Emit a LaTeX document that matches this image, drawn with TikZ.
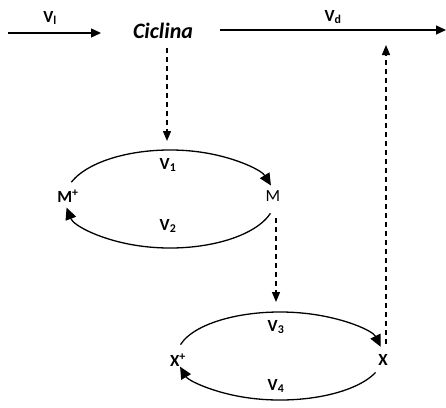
\documentclass[tikz,border=0pt]{standalone}
\usepackage{fontspec}
\setmainfont{Carlito}
\usetikzlibrary{arrows.meta}
\begin{document}
\begin{tikzpicture}[x=1pt,y=-1pt,
  lbl/.style={font=\bfseries\fontsize{17}{19}\selectfont,inner sep=0pt},
  flow/.style={line width=1.3pt,-{Triangle[length=10pt,width=9pt]}},
  cyc/.style={line width=1.3pt,-{Triangle[length=12pt,width=11pt]}},
  dashlink/.style={line width=1.3pt,dash pattern=on 5pt off 4pt,-{Triangle[length=10pt,width=8pt]}}]
\useasboundingbox (0,0) rectangle (446,407);

% top row
\coordinate (in0) at (8,33);
\node[inner sep=0pt] (cyc) at (163,31) {\bfseries\itshape\fontsize{22}{26}\selectfont Ciclina};
\coordinate (inEnd) at (101,33);
\coordinate (dStart) at (220,30);
\coordinate (dEnd) at (446,30);
\draw[flow] (in0) -- (inEnd);
\draw[flow] (dStart) -- (dEnd);
\node[lbl] (vl) at (50,18) {V\textsubscript{l}};
\node[lbl] (vd) at (333,17) {V\textsubscript{d}};

% M cycle
\coordinate (cM) at (170,199);
\node[lbl] (mp) at (68,196) {M\textsuperscript{+}};
\node[font=\fontsize{17}{19}\selectfont,inner sep=0pt] (m) at (273,196) {M};
\node[lbl] (v1) at (168,165) {V\textsubscript{1}};
\node[lbl] (v2) at (168,226) {V\textsubscript{2}};
\draw[cyc] ([shift={(160:105 and -49)}]cM) arc[start angle=160,end angle=16,x radius=105,y radius=-49];
\draw[cyc] ([shift={(-17:105 and -49)}]cM) arc[start angle=-17,end angle=-170,x radius=105,y radius=-49];

% X cycle
\coordinate (cX) at (280,356);
\node[lbl] (xp) at (178,360) {X\textsuperscript{+}};
\node[lbl] (x) at (383,360) {X};
\node[lbl] (v3) at (276,327) {V\textsubscript{3}};
\node[lbl] (v4) at (276,386) {V\textsubscript{4}};
\draw[cyc] ([shift={(165:103 and -44)}]cX) arc[start angle=165,end angle=12,x radius=103,y radius=-44];
\draw[cyc] ([shift={(-22:103 and -44)}]cX) arc[start angle=-22,end angle=-166,x radius=103,y radius=-44];

% dashed links
\coordinate (c1) at (167,48);
\coordinate (c2) at (167,141);
\draw[dashlink] (c1) -- (c2);
\coordinate (m1) at (276,218);
\coordinate (m2) at (276,302);
\draw[dashlink] (m1) -- (m2);
\coordinate (x1) at (386,344);
\coordinate (x2) at (386,45);
\draw[dashlink] (x1) -- (x2);
\end{tikzpicture}
\end{document}
